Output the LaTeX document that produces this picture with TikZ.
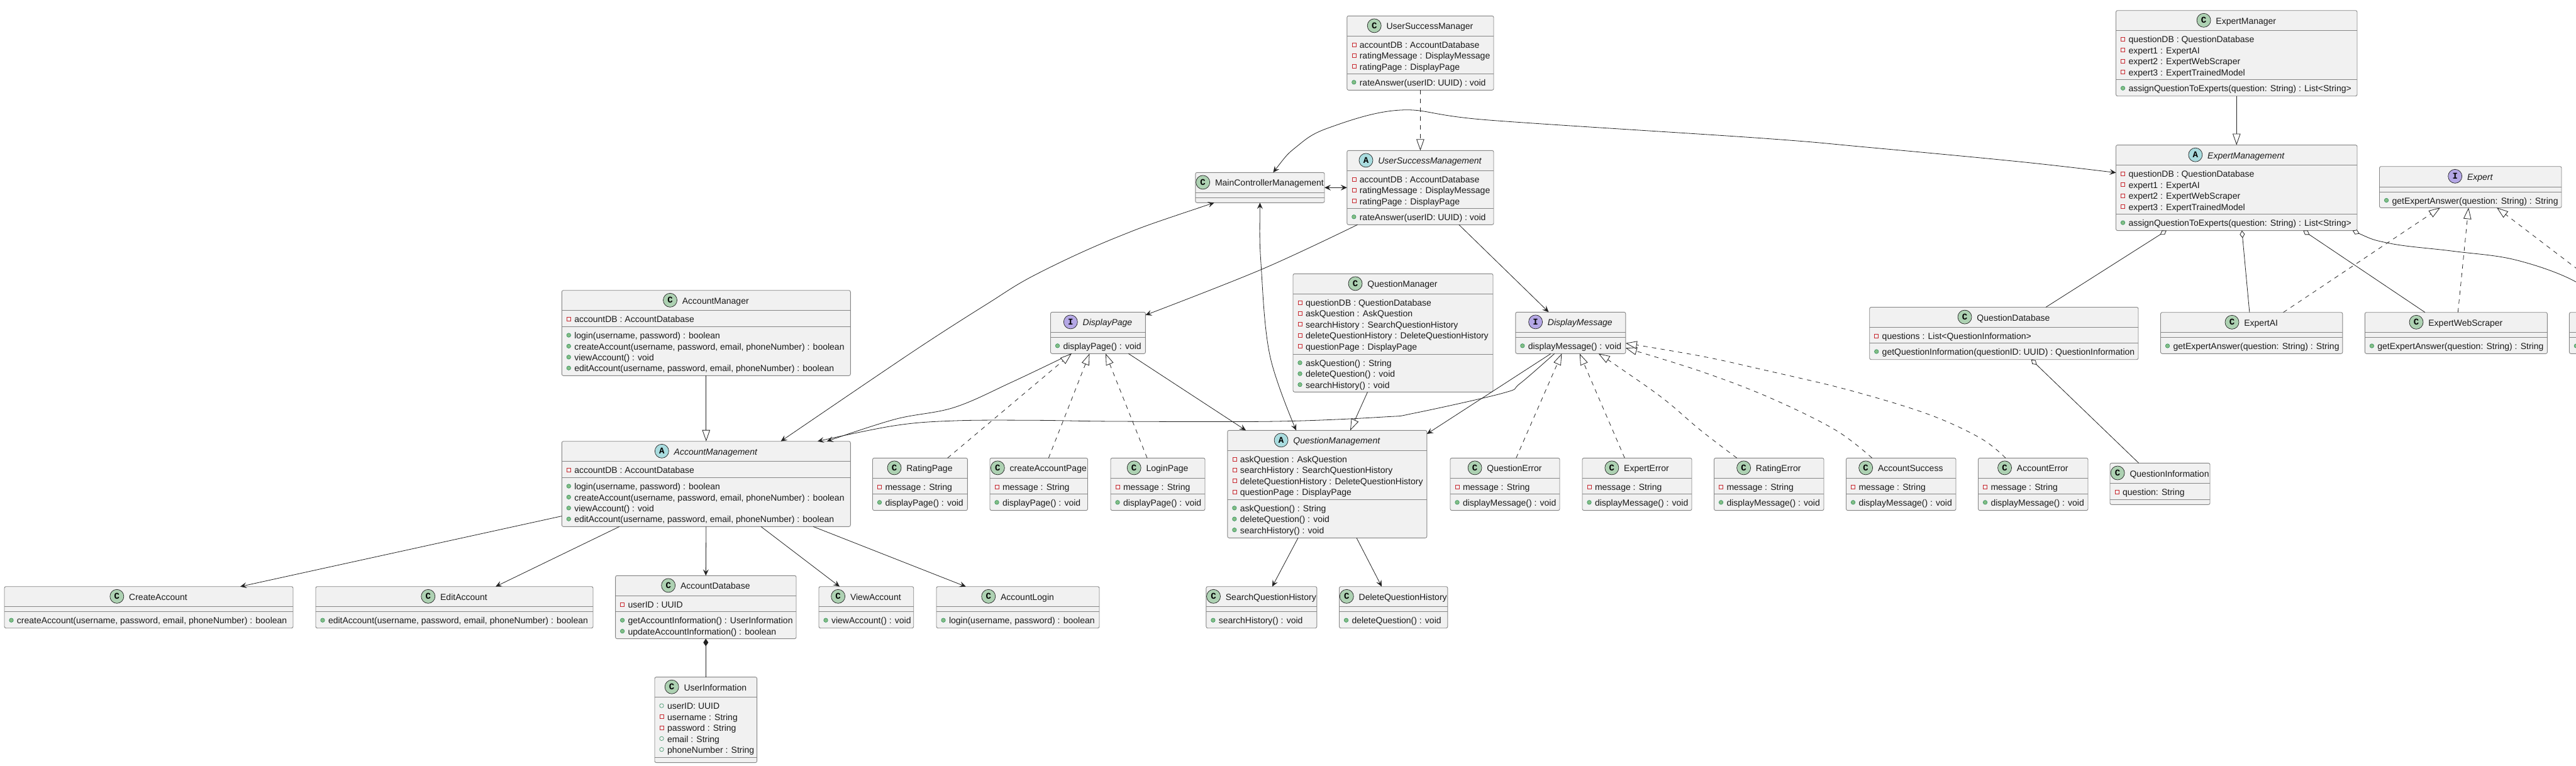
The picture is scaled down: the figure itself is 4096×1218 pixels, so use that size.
\documentclass[tikz,border=0pt]{standalone}
\usepackage{fontspec}
\setmainfont{Liberation Sans}
\setmonofont{Liberation Mono}
\usetikzlibrary{arrows.meta}
\usetikzlibrary{positioning}
\definecolor{umlink}{HTML}{222222}
\definecolor{umlrule}{HTML}{858585}
\definecolor{umlfill}{HTML}{F1F1F1}
\definecolor{privred}{HTML}{C82930}
\definecolor{pubgreen}{HTML}{84BE84}
\definecolor{pubedge}{HTML}{2F8F5F}
\definecolor{umlC}{HTML}{ADD1B2}
\definecolor{umlA}{HTML}{A9DCDF}
\definecolor{umlI}{HTML}{B4A7E5}
\tikzset{
  umlnode/.style = {rectangle, draw=umlrule, fill=umlfill, line width=.9pt,
    rounded corners=2.5pt, inner sep=0pt, outer sep=0pt, anchor=north west},
  umlsepline/.style = {draw=umlrule, line width=.9pt},
  umltext/.style = {inner sep=0pt, outer sep=0pt, anchor=base west,
    text=black!90, font=\fontsize{14}{14}\selectfont},
  umltitle/.style = {umltext, anchor=base},
  iconbase/.style = {circle, draw=umlink, line width=.7pt, minimum size=22pt,
    inner sep=0pt, font=\fontsize{14}{14}\ttfamily\bfseries},
  iconC/.style = {iconbase, fill=umlC},
  iconA/.style = {iconbase, fill=umlA},
  iconI/.style = {iconbase, fill=umlI},
  privmark/.style = {rectangle, draw=privred, line width=.6pt,
    minimum size=6pt, inner sep=0pt},
  pubmark/.style = {circle, draw=pubedge, fill=pubgreen, line width=.6pt,
    minimum size=6.5pt, inner sep=0pt},
  pubfield/.style = {circle, draw=pubedge, line width=.6pt,
    minimum size=6.5pt, inner sep=0pt},
  conn/.style = {draw=umlink, line width=.8pt},
  assoc/.style = {conn, -{Stealth[length=10pt,width=9pt,inset=4pt]}},
  bothway/.style = {conn, {Stealth[length=10pt,width=9pt,inset=4pt]}-{Stealth[length=10pt,width=9pt,inset=4pt]}},
  extends/.style = {conn, -{Triangle[length=18pt,width=12.5pt,fill=white]}},
  realizes/.style = {extends, dash pattern=on 7pt off 7pt},
  aggr/.style = {conn, {Diamond[length=12pt,width=8pt,fill=white]}-},
  compo/.style = {conn, {Diamond[length=12pt,width=8pt,fill=umlink]}-}
}
% name, icon letter, title, left, top, right, bottom
\newcommand{\umlbox}[7]{
  \pgfmathsetmacro\boxw{#6-#4}
  \pgfmathsetmacro\boxh{#7-#5}
  \pgfmathsetmacro\boxt{#5+21.6}
  \node[umlnode, minimum width=\boxw pt, minimum height=\boxh pt] (#1) at (#4,#5) {};
  \node[umltitle, xshift=15pt] (#1-t) at (#1.north |- 0,\boxt) {#3};
  \node[icon#2, left=8pt of #1-t.base west, yshift=6pt] (#1-i) {#2};
}
% box, y of the line
\newcommand{\umlsep}[2]{\draw[umlsepline] (#1.west |- 0,#2) -- (#1.east |- 0,#2);}
% box, compartment, y of the line above, rows
\newcommand{\umlrows}[4]{
  \umlsep{#1}{#3}
  \foreach \mk/\txt [count=\i] in {#4} {
    \pgfmathsetmacro\yy{#3+19.2+(\i-1)*17.4}
    \pgfmathsetmacro\ym{\yy-5.7}
    \node[\mk] (#1-#2-\i-m) at ([xshift=11pt]#1.west |- 0,\ym) {};
    \node[umltext] (#1-#2-\i) at ([xshift=20pt]#1.west |- 0,\yy) {\txt};
  }
}
\begin{document}
\begin{tikzpicture}[x=1pt,y=-1pt]
\path[use as bounding box, clip] (0,0) rectangle (4096,1218);

% account side
\umlbox{amgr}{C}{AccountManager}{893.3}{461.7}{1352.3}{597.3}
\umlrows{amgr}{attr}{493.5}{privmark/{accountDB : AccountDatabase}}
\umlrows{amgr}{ops}{519.5}{pubmark/{login(username, password) : boolean},
  pubmark/{createAccount(username, password, email, phoneNumber) : boolean},
  pubmark/{viewAccount() : void},
  pubmark/{editAccount(username, password, email, phoneNumber) : boolean}}
\umlbox{am}{A}{\itshape AccountManagement}{893.3}{701.7}{1352.3}{837.3}
\umlrows{am}{attr}{733.5}{privmark/{accountDB : AccountDatabase}}
\umlrows{am}{ops}{759.5}{pubmark/{login(username, password) : boolean},
  pubmark/{createAccount(username, password, email, phoneNumber) : boolean},
  pubmark/{viewAccount() : void},
  pubmark/{editAccount(username, password, email, phoneNumber) : boolean}}
\umlbox{ca}{C}{CreateAccount}{7}{932.7}{466}{998.7}
\umlsep{ca}{964.7}
\umlrows{ca}{ops}{972.7}{pubmark/{createAccount(username, password, email, phoneNumber) : boolean}}
\umlbox{ea}{C}{EditAccount}{502}{932.7}{943}{998.7}
\umlsep{ea}{964.7}
\umlrows{ea}{ops}{972.7}{pubmark/{editAccount(username, password, email, phoneNumber) : boolean}}
\umlbox{adb}{C}{AccountDatabase}{978.6}{915.3}{1266}{1015.6}
\umlrows{adb}{attr}{947.3}{privmark/{userID : UUID}}
\umlrows{adb}{ops}{972.7}{pubmark/{getAccountInformation() : UserInformation},
  pubmark/{updateAccountInformation() : boolean}}
\umlbox{va}{C}{ViewAccount}{1302}{932.7}{1452.7}{998.7}
\umlsep{va}{964.7}
\umlrows{va}{ops}{972.7}{pubmark/{viewAccount() : void}}
\umlbox{al}{C}{AccountLogin}{1489}{932.7}{1748}{998.7}
\umlsep{al}{964.7}
\umlrows{al}{ops}{972.7}{pubmark/{login(username, password) : boolean}}
\umlbox{ui}{C}{UserInformation}{1041}{1076.6}{1203.6}{1212.6}
\umlrows{ui}{attr}{1108.6}{pubfield/{userID: UUID},
  privmark/{username : String},
  privmark/{password : String},
  pubfield/{email : String},
  pubfield/{phoneNumber : String}}
\umlsep{ui}{1204.6}

% controller and success
\umlbox{mc}{C}{MainControllerManagement}{1900.8}{274.3}{2106}{322.3}
\umlsep{mc}{306.3}
\umlsep{mc}{314.3}
\umlbox{usmgr}{C}{UserSuccessManager}{2141.8}{25.3}{2375}{143.3}
\umlrows{usmgr}{attr}{57.3}{privmark/{accountDB : AccountDatabase},
  privmark/{ratingMessage : DisplayMessage},
  privmark/{ratingPage : DisplayPage}}
\umlrows{usmgr}{ops}{117.3}{pubmark/{rateAnswer(userID: UUID) : void}}
\umlbox{usm}{A}{\itshape UserSuccessManagement}{2141.8}{239.3}{2375}{357.3}
\umlrows{usm}{attr}{271.3}{privmark/{accountDB : AccountDatabase},
  privmark/{ratingMessage : DisplayMessage},
  privmark/{ratingPage : DisplayPage}}
\umlrows{usm}{ops}{331.3}{pubmark/{rateAnswer(userID: UUID) : void}}

% display interfaces
\umlbox{dp}{I}{\itshape DisplayPage}{1670.5}{496.3}{1821.4}{562.3}
\umlsep{dp}{528.3}
\umlrows{dp}{ops}{536.3}{pubmark/{displayPage() : void}}
\umlbox{dm}{I}{\itshape DisplayMessage}{2409.8}{496.3}{2584.8}{562.3}
\umlsep{dm}{528.3}
\umlrows{dm}{ops}{536.3}{pubmark/{displayMessage() : void}}
\umlbox{rp}{C}{RatingPage}{1387.5}{728.3}{1538.4}{811.6}
\umlrows{rp}{attr}{760.3}{privmark/{message : String}}
\umlrows{rp}{ops}{785.3}{pubmark/{displayPage() : void}}
\umlbox{cap}{C}{createAccountPage}{1574}{728.3}{1729.5}{811.6}
\umlrows{cap}{attr}{760.3}{privmark/{message : String}}
\umlrows{cap}{ops}{785.3}{pubmark/{displayPage() : void}}
\umlbox{lp}{C}{LoginPage}{1766}{728.3}{1916}{811.6}
\umlrows{lp}{attr}{760.3}{privmark/{message : String}}
\umlrows{lp}{ops}{785.3}{pubmark/{displayPage() : void}}
\umlbox{qe}{C}{QuestionError}{2306}{728.3}{2480}{811.6}
\umlrows{qe}{attr}{760.3}{privmark/{message : String}}
\umlrows{qe}{ops}{785.3}{pubmark/{displayMessage() : void}}
\umlbox{ee}{C}{ExpertError}{2516}{728.3}{2690}{811.6}
\umlrows{ee}{attr}{760.3}{privmark/{message : String}}
\umlrows{ee}{ops}{785.3}{pubmark/{displayMessage() : void}}
\umlbox{re}{C}{RatingError}{2725.5}{728.3}{2900}{811.6}
\umlrows{re}{attr}{760.3}{privmark/{message : String}}
\umlrows{re}{ops}{785.3}{pubmark/{displayMessage() : void}}
\umlbox{as}{C}{AccountSuccess}{2935.5}{728.3}{3110}{811.6}
\umlrows{as}{attr}{760.3}{privmark/{message : String}}
\umlrows{as}{ops}{785.3}{pubmark/{displayMessage() : void}}
\umlbox{ae}{C}{AccountError}{3145.5}{728.3}{3320}{811.6}
\umlrows{ae}{attr}{760.3}{privmark/{message : String}}
\umlrows{ae}{ops}{785.3}{pubmark/{displayMessage() : void}}

% question side
\umlbox{qmgr}{C}{QuestionManager}{2056}{435.3}{2374}{623.3}
\umlrows{qmgr}{attr}{467.3}{privmark/{questionDB : QuestionDatabase},
  privmark/{askQuestion : AskQuestion},
  privmark/{searchHistory : SearchQuestionHistory},
  privmark/{deleteQuestionHistory : DeleteQuestionHistory},
  privmark/{questionPage : DisplayPage}}
\umlrows{qmgr}{ops}{563.3}{pubmark/{askQuestion() : String},
  pubmark/{deleteQuestion() : void},
  pubmark/{searchHistory() : void}}
\umlbox{qm}{A}{\itshape QuestionManagement}{1951.8}{684.3}{2268.8}{855.3}
\umlrows{qm}{attr}{716.3}{privmark/{askQuestion : AskQuestion},
  privmark/{searchHistory : SearchQuestionHistory},
  privmark/{deleteQuestionHistory : DeleteQuestionHistory},
  privmark/{questionPage : DisplayPage}}
\umlrows{qm}{ops}{794.3}{pubmark/{askQuestion() : String},
  pubmark/{deleteQuestion() : void},
  pubmark/{searchHistory() : void}}
\umlbox{sqh}{C}{SearchQuestionHistory}{1917.9}{932.7}{2093.8}{998.7}
\umlsep{sqh}{964.7}
\umlrows{sqh}{ops}{972.7}{pubmark/{searchHistory() : void}}
\umlbox{dqh}{C}{DeleteQuestionHistory}{2129.5}{932.7}{2301.8}{998.7}
\umlsep{dqh}{964.7}
\umlrows{dqh}{ops}{972.7}{pubmark/{deleteQuestion() : void}}
\umlbox{qdb}{C}{QuestionDatabase}{2972.7}{488.5}{3400}{571.7}
\umlrows{qdb}{attr}{520.5}{privmark/{questions : List<QuestionInformation>}}
\umlrows{qdb}{ops}{545.5}{pubmark/{getQuestionInformation(questionID: UUID) : QuestionInformation}}
\umlbox{qi}{C}{QuestionInformation}{3355}{736.4}{3514}{802.3}
\umlrows{qi}{attr}{768.4}{privmark/{question: String}}
\umlsep{qi}{794.4}

% expert side
\umlbox{emgr}{C}{ExpertManager}{3364.5}{16.7}{3748}{152.7}
\umlrows{emgr}{attr}{48.7}{privmark/{questionDB : QuestionDatabase},
  privmark/{expert1 : ExpertAI},
  privmark/{expert2 : ExpertWebScraper},
  privmark/{expert3 : ExpertTrainedModel}}
\umlrows{emgr}{ops}{126.7}{pubmark/{assignQuestionToExperts(question: String) : List<String>}}
\umlbox{em}{A}{\itshape ExpertManagement}{3364.5}{230.6}{3748}{366.6}
\umlrows{em}{attr}{262.6}{privmark/{questionDB : QuestionDatabase},
  privmark/{expert1 : ExpertAI},
  privmark/{expert2 : ExpertWebScraper},
  privmark/{expert3 : ExpertTrainedModel}}
\umlrows{em}{ops}{340.6}{pubmark/{assignQuestionToExperts(question: String) : List<String>}}
\umlbox{ex}{I}{\itshape Expert}{3783.5}{264.7}{4073}{330.3}
\umlsep{ex}{297}
\umlrows{ex}{ops}{305}{pubmark/{getExpertAnswer(question: String) : String}}
\umlbox{eai}{C}{ExpertAI}{3435.5}{496.7}{3724.8}{562.3}
\umlsep{eai}{528.5}
\umlrows{eai}{ops}{536.5}{pubmark/{getExpertAnswer(question: String) : String}}
\umlbox{ews}{C}{ExpertWebScraper}{3760.3}{496.7}{4050.4}{562.3}
\umlsep{ews}{528.5}
\umlrows{ews}{ops}{536.5}{pubmark/{getExpertAnswer(question: String) : String}}
% runs off the page, only its left edge shows
\node[umlnode, minimum width=290pt, minimum height=65.6pt] (etm) at (4085.3,496.7) {};
\umlsep{etm}{528.5}
\umlsep{etm}{536.5}
\node[pubmark] (etm-m) at ([xshift=11pt]etm.west |- 0,550) {};

% connectors
\draw[extends] (amgr.south) -- (am.north);
\draw[assoc] ([yshift=-51.1pt]am.west) -- ([xshift=145.5pt]ca.north);
\draw[assoc] ([xshift=-137.8pt]am.south) -- ([xshift=65.5pt]ea.north);
\draw[assoc] (am.south) -- (adb.north);
\draw[assoc] ([xshift=87.2pt]am.south) -- ([xshift=-42.3pt]va.north);
\draw[assoc] ([xshift=170.2pt]am.south) -- ([xshift=-82.8pt]al.north);
\draw[compo] (adb.south) -- (ui.north);

\draw[bothway] (mc.east) -- (usm.west);
\draw[bothway] plot[smooth,tension=.6] coordinates {([xshift=-72.7pt]mc.south) (1774,378) (1646,437) (1570,483) (1480.6,540) (1391,600) ([xshift=118.7pt]am.north)};
\draw[bothway] plot[smooth,tension=.6] coordinates {(mc.south) (2005.5,426.7) (2019.5,566.7) ([xshift=-49.3pt]qm.north)};
\draw[bothway] plot[smooth,tension=.6] coordinates {([xshift=21pt]mc.north) (2061.5,233.3) (2112.5,203.3) (2227.3,175) (2367.6,191) (2800,219.7) (2965,233.8) (3213,257.3) ([yshift=24pt]em.west)};
\draw[extends, dash pattern=on 7pt off 7pt] (usmgr.south) -- (usm.north);
\draw[assoc] plot[smooth,tension=.6] coordinates {([xshift=-99.9pt]usm.south) (2006.8,428) ([yshift=28.3pt]dp.east)};
\draw[assoc] ([xshift=61.4pt]usm.south) -- ([xshift=-34.8pt]dm.north);

\draw[assoc] ([xshift=48.4pt]dp.south) -- ([xshift=-129.3pt]qm.north);
\draw[assoc] ([xshift=-31.3pt]dm.south) -- ([yshift=79.8pt]qm.east);
\draw[assoc] plot[smooth,tension=.6] coordinates {([xshift=-42.2pt]dp.south) (1608,608) (1516.7,648) (1423,666.7) ([xshift=192pt]am.north)};
\draw[assoc] plot[smooth,tension=.6] coordinates {([xshift=-25.6pt]dm.south) (2416.7,610) (2390,625) (2250,656.7) (2200,663) (2029,670) (1774,670) (1646.4,668.3) (1519,669) (1423,676.7) ([xshift=177.2pt]am.north)};
\draw[extends] ([xshift=-40.5pt]qmgr.south) -- ([xshift=36.7pt]qm.north);

\draw[realizes] ([xshift=43.7pt]rp.north) -- ([xshift=-42.2pt]dp.south);
\draw[realizes] ([xshift=15.5pt]cap.north) -- ([xshift=-13.5pt]dp.south);
\draw[realizes] ([xshift=-17pt]lp.north) -- ([xshift=12pt]dp.south);
\draw[realizes] ([xshift=17.7pt]qe.north) -- ([xshift=-14pt]dm.south);
\draw[realizes] ([xshift=-19.7pt]ee.north) -- ([xshift=14.4pt]dm.south);
\draw[realizes] plot[smooth,tension=.6] coordinates {([xshift=-51pt]re.north) (2703,683.3) (2644,633.3) (2568.4,580) ([xshift=44.4pt]dm.south)};
\draw[realizes] plot[smooth,tension=.6] coordinates {([xshift=-46.1pt]as.north) (2917.7,683.3) (2812.5,631.7) (2703,590) ([yshift=-24pt]dm.east)};
\draw[realizes] plot[smooth,tension=.6] coordinates {([xshift=-43.8pt]ae.north) (3149,696.7) (3065,658.3) (2938.8,620) (2812.5,590) (2707,566.7) ([yshift=-16.4pt]dm.east)};

\draw[assoc] ([xshift=-46.3pt]qm.south) -- ([xshift=17.1pt]sqh.north);
\draw[assoc] ([xshift=46.7pt]qm.south) -- ([xshift=-18.7pt]dqh.north);

\draw[extends] (emgr.south) -- (em.north);
\draw[aggr] ([xshift=-111.4pt]em.south) -- ([xshift=66.6pt]qdb.north);
\draw[aggr] ([xshift=8.5pt]em.south) -- ([xshift=-3.3pt]eai.north);
\draw[aggr] ([xshift=106pt]em.south) -- ([xshift=-49.4pt]ews.north);
\draw[aggr] plot[smooth,tension=.6] coordinates {([xshift=184.5pt]em.south) (3800,387) (3900,399.3) (4000,413.3) (4096,448.3) ([xshift=-80pt]etm.north)};
\draw[realizes] ([xshift=50.4pt]eai.north) -- ([xshift=-48.3pt]ex.south);
\draw[realizes] ([xshift=2.9pt]ews.north) -- ([xshift=-3.2pt]ex.south);
\draw[realizes] ([xshift=-42pt]etm.north) -- ([xshift=41.8pt]ex.south);
\draw[aggr] ([xshift=43.4pt]qdb.south) -- ([xshift=-33.7pt]qi.north);
\end{tikzpicture}
\end{document}
